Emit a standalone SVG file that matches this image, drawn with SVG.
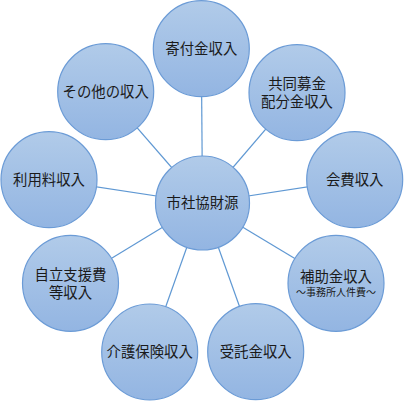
<svg xmlns="http://www.w3.org/2000/svg" width="404" height="401" viewBox="0 0 404 401">
<defs>
<linearGradient id="g" x1="0" y1="0" x2="0" y2="1">
<stop offset="0" stop-color="#b1cbe9"/>
<stop offset="1" stop-color="#93b5e2"/>
</linearGradient>
<style>
.n{fill:url(#g);stroke:#6b9bd6;stroke-width:1.2}
.c{stroke:#5f98d3;stroke-width:1.2;fill:none}
text{font-family:"Noto Sans CJK JP","Noto Sans CJK SC",sans-serif;font-size:14.4px;fill:#1a1a1a;text-anchor:middle;dominant-baseline:central}
.s{font-size:10px}
</style>
</defs>
<rect width="404" height="401" fill="#fff"/>
<g id="connectors">
<line class="c" x1="202.5" y1="203" x2="201.3" y2="48.7"/>
<line class="c" x1="202.5" y1="203" x2="297" y2="92.7"/>
<line class="c" x1="202.5" y1="203" x2="354.7" y2="179.7"/>
<line class="c" x1="202.5" y1="203" x2="336" y2="283.3"/>
<line class="c" x1="202.5" y1="203" x2="255.7" y2="351.7"/>
<line class="c" x1="202.5" y1="203" x2="149.7" y2="352"/>
<line class="c" x1="202.5" y1="203" x2="70.5" y2="283.3"/>
<line class="c" x1="202.5" y1="203" x2="49" y2="179.7"/>
<line class="c" x1="202.5" y1="203" x2="105.7" y2="91.7"/>
</g>
<g id="n1"><circle class="n" cx="201.3" cy="48.7" r="48"/><text x="201.3" y="47">寄付金収入</text></g>
<g id="n2"><circle class="n" cx="297" cy="92.7" r="48"/><text x="297" y="82">共同募金</text><text x="297" y="100">配分金収入</text></g>
<g id="n3"><circle class="n" cx="354.7" cy="179.7" r="48"/><text x="354.7" y="178">会費収入</text></g>
<g id="n4"><circle class="n" cx="336" cy="283.3" r="48"/><text x="336" y="275">補助金収入</text><text class="s" x="336" y="291">～事務所人件費～</text></g>
<g id="n5"><circle class="n" cx="255.7" cy="351.7" r="48"/><text x="255.7" y="350">受託金収入</text></g>
<g id="n6"><circle class="n" cx="149.7" cy="352" r="48"/><text x="149.7" y="350">介護保険収入</text></g>
<g id="n7"><circle class="n" cx="70.5" cy="283.3" r="48"/><text x="70.5" y="273">自立支援費</text><text x="70.5" y="291">等収入</text></g>
<g id="n8"><circle class="n" cx="49" cy="179.7" r="48"/><text x="49" y="178">利用料収入</text></g>
<g id="n9"><circle class="n" cx="105.7" cy="91.7" r="48"/><text x="105.7" y="90">その他の収入</text></g>
<g id="center"><circle class="n" cx="202.5" cy="203" r="47"/><text x="202.5" y="201">市社協財源</text></g>
</svg>
